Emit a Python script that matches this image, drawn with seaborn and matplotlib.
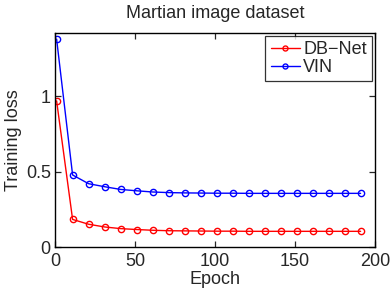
import matplotlib
matplotlib.use("Agg")
import matplotlib.pyplot as plt
import seaborn as sns
import pandas as pd

epochs = [1, 11, 21, 31, 41, 51, 61, 71, 81, 91, 101, 111, 121, 131, 141, 151, 161, 171, 181, 191]
dbnet = [0.97, 0.183, 0.151, 0.133, 0.122, 0.116, 0.111, 0.108, 0.107, 0.106, 0.105, 0.105, 0.104, 0.104, 0.104, 0.104, 0.104, 0.104, 0.104, 0.104]
vin = [1.38, 0.478, 0.42, 0.40, 0.382, 0.373, 0.365, 0.361, 0.359, 0.358, 0.357, 0.357, 0.356, 0.356, 0.356, 0.356, 0.356, 0.356, 0.356, 0.356]
series_names = ["DB\u2212Net", "VIN"]
colors = ["#ff0000", "#0000ff"]

sns.set_style("white")
plt.rcParams['font.family'] = ['Liberation Sans', 'DejaVu Sans']
FS = 13

df = pd.DataFrame({
    "Epoch": epochs * 2,
    "loss": dbnet + vin,
    "model": [series_names[0]] * len(epochs) + [series_names[1]] * len(epochs),
})

fig = plt.figure(figsize=(3.9, 2.9), dpi=100)
ax = fig.add_axes([55/390, 1 - 247/290, 320/390, 214/290])
sns.lineplot(data=df, x="Epoch", y="loss", hue="model", palette=colors, marker="o",
             markersize=4.5, markerfacecolor="none", markeredgewidth=1.0, linewidth=1.0,
             ax=ax)
for line, c in zip(ax.lines, colors):
    line.set_markeredgecolor(c)

ax.set_xlim(0, 200)
ax.set_ylim(0, 1.42)
ax.set_xticks([0, 50, 100, 150, 200])
ax.set_yticks([0, 0.5, 1])
ax.set_yticklabels(["0", "0.5", "1"])
ax.tick_params(direction="in", length=4, width=0.9, labelsize=FS, top=True, right=True,
               bottom=True, left=True)
ax.tick_params(axis="x", pad=4)
ax.tick_params(axis="y", pad=3)
for s in ax.spines.values():
    s.set_visible(True)
    s.set_color("black")
    s.set_linewidth(1.0)
ax.set_xlabel("Epoch", fontsize=FS, labelpad=1)
ax.set_ylabel("Training loss", fontsize=FS, labelpad=3)
ax.set_title("Martian image dataset", fontsize=FS, pad=11)

handles, labels = ax.get_legend_handles_labels()
for h, c in zip(handles, colors):
    h.set_markeredgecolor(c)
    h.set_markerfacecolor("none")
leg = ax.legend(handles, labels, loc="upper right", fontsize=FS, frameon=True, fancybox=False,
                edgecolor="black", handlelength=1.6, handletextpad=0.2, borderpad=0.3,
                labelspacing=0.05, borderaxespad=0.15, markerscale=0.8)
leg.get_frame().set_linewidth(0.9)

fig.savefig("out.png", dpi=100)
